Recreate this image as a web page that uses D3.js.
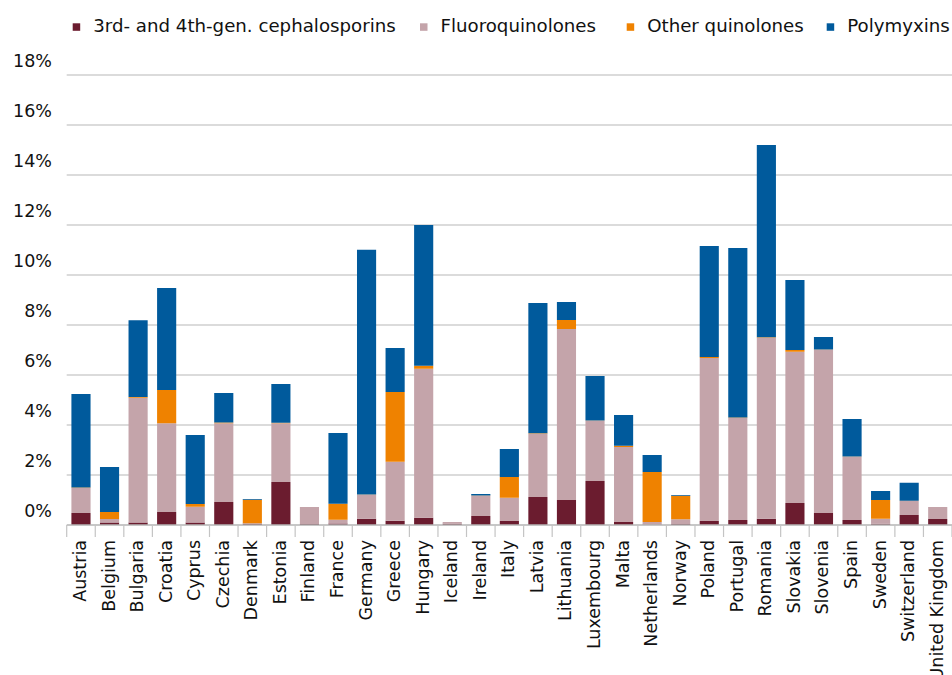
<!DOCTYPE html>
<html>
<head>
<meta charset="utf-8">
<script src="https://cdn.jsdelivr.net/npm/d3@7"></script>
<style>
  html, body { margin: 0; padding: 0; background: #fff; }
  svg { display: block; font-family: "DejaVu Sans", Verdana, sans-serif; }
</style>
</head>
<body>
<svg id="chart" width="952" height="675"></svg>
<script>
const countries = ["Austria","Belgium","Bulgaria","Croatia","Cyprus","Czechia","Denmark","Estonia","Finland","France","Germany","Greece","Hungary","Iceland","Ireland","Italy","Latvia","Lithuania","Luxembourg","Malta","Netherlands","Norway","Poland","Portugal","Romania","Slovakia","Slovenia","Spain","Sweden","Switzerland","United Kingdom"];
const seriesNames = ["3rd- and 4th-gen. cephalosporins","Fluoroquinolones","Other quinolones","Polymyxins"];
const seriesColors = ["#6b1c2f","#c4a4aa","#ef8200","#005a9c"];
const cephalosporins = [0.48,0.10,0.10,0.52,0.10,0.92,0.05,1.72,0.04,0.06,0.25,0.17,0.29,0.05,0.36,0.16,1.12,1.00,1.76,0.12,0.02,0.04,0.16,0.20,0.25,0.88,0.48,0.20,0.05,0.40,0.24];
const fluoroquinolones = [1.00,0.14,4.99,3.55,0.63,3.15,0.02,2.35,0.68,0.15,0.96,2.36,5.96,0.07,0.81,0.93,2.53,6.84,2.41,3.00,0.10,0.19,6.52,4.08,7.24,6.05,6.53,2.53,0.20,0.56,0.48];
const otherQuinolones = [0.02,0.28,0.03,1.33,0.11,0.03,0.94,0.02,0.00,0.64,0.01,2.79,0.12,0.00,0.01,0.83,0.02,0.36,0.01,0.05,2.00,0.94,0.04,0.02,0.02,0.07,0.01,0.01,0.75,0.01,0.00];
const polymyxins = [3.74,1.80,3.07,4.08,2.76,1.18,0.03,1.55,0.00,2.83,9.79,1.76,5.63,0.00,0.06,1.12,5.21,0.72,1.78,1.23,0.68,0.03,4.44,6.78,7.69,2.80,0.50,1.50,0.36,0.72,0.00];
const yTicks = [0,2,4,6,8,10,12,14,16,18];

const svg = d3.select("#chart");
const plotLeft = 66.7, plotRight = 952, plotTop = 75, plotBottom = 525;

const rows = countries.map((c, i) => ({
  country: c,
  s0: cephalosporins[i], s1: fluoroquinolones[i], s2: otherQuinolones[i], s3: polymyxins[i]
}));
const keys = ["s0","s1","s2","s3"];
const stacked = d3.stack().keys(keys)(rows);

const x = d3.scaleBand().domain(countries).range([plotLeft, plotRight]).paddingInner(0.33).paddingOuter(0.165);
const y = d3.scaleLinear().domain([0, 18]).range([plotBottom, plotTop]);

// gridlines
svg.append("g").selectAll("line").data(yTicks.filter(d => d > 0)).join("line")
  .attr("x1", plotLeft).attr("x2", plotRight)
  .attr("y1", d => y(d)).attr("y2", d => y(d))
  .attr("stroke", "#cfcfcf").attr("stroke-width", 1.5);

// y labels
svg.append("g").selectAll("text").data(yTicks).join("text")
  .attr("x", 52).attr("y", d => y(d) - 13)
  .attr("text-anchor", "end").attr("dominant-baseline", "middle")
  .attr("font-size", 17.5).attr("fill", "#111")
  .text(d => d + "%");

// bars
svg.append("g").selectAll("g").data(stacked).join("g")
  .attr("fill", (d, i) => seriesColors[i])
  .selectAll("rect").data(d => d).join("rect")
  .attr("x", d => x(d.data.country))
  .attr("width", x.bandwidth())
  .attr("y", d => y(d[1]))
  .attr("height", d => Math.max(0, y(d[0]) - y(d[1])));

// x axis baseline and ticks
const gx = svg.append("g").attr("transform", `translate(0,${plotBottom})`);
gx.append("line").attr("x1", plotLeft).attr("x2", plotRight).attr("y1", 0).attr("y2", 0)
  .attr("stroke", "#b5b5b5").attr("stroke-width", 1.5);
const boundaries = countries.map(c => x(c) - x.step() * x.paddingInner() / 2);
boundaries.push(plotRight);
boundaries[0] = plotLeft;
gx.selectAll("line.tk").data(boundaries).join("line").attr("class", "tk")
  .attr("x1", d => d).attr("x2", d => d).attr("y1", 0).attr("y2", 12)
  .attr("stroke", "#c4c4c4").attr("stroke-width", 1.2);
gx.selectAll("text").data(countries).join("text")
  .attr("transform", d => `translate(${x(d) + x.bandwidth() / 2},15) rotate(-90)`)
  .attr("text-anchor", "end").attr("dominant-baseline", "middle")
  .attr("font-size", 17.5).attr("fill", "#111")
  .text(d => d);

// legend
const legendX = [72.7, 420, 626.7, 826.7];
const lg = svg.append("g").selectAll("g").data(seriesNames).join("g")
  .attr("transform", (d, i) => `translate(${legendX[i]},27)`);
lg.append("rect").attr("x", 0).attr("y", -3.7).attr("width", 7.5).attr("height", 7.5)
  .attr("fill", (d, i) => seriesColors[i]);
lg.append("text").attr("x", 20.5).attr("y", 0).attr("dominant-baseline", "middle")
  .attr("font-size", 18.2).attr("fill", "#111").text(d => d);
</script>
</body>
</html>
